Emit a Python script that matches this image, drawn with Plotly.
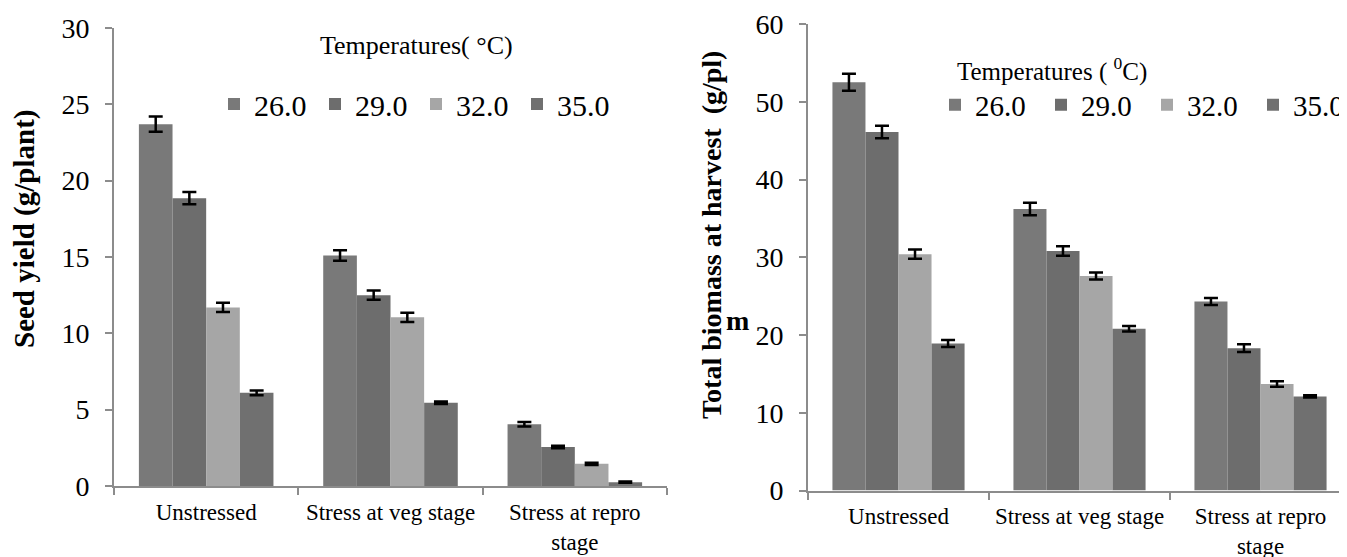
import plotly.graph_objects as go

# page has an 8px body margin; figure fills the rest of the 1347x557 window
OFF = 8
W, H = 1347 - OFF, 557 - OFF

categories = ["Unstressed", "Stress at veg stage", "Stress at repro<br>stage"]
temps = ["26.0", "29.0", "32.0", "35.0"]
colors = ["#797979", "#6d6d6d", "#a6a6a6", "#707070"]

# Seed yield (g/plant)
seed_26 = [23.7, 15.1, 4.05]
seed_29 = [18.85, 12.5, 2.55]
seed_32 = [11.7, 11.05, 1.45]
seed_35 = [6.1, 5.45, 0.25]
seed_err_26 = [0.5, 0.35, 0.15]
seed_err_29 = [0.4, 0.3, 0.08]
seed_err_32 = [0.3, 0.3, 0.08]
seed_err_35 = [0.15, 0.08, 0.04]

# Total biomass at harvest (g/pl)
bio_26 = [52.5, 36.2, 24.3]
bio_29 = [46.1, 30.8, 18.3]
bio_32 = [30.4, 27.6, 13.7]
bio_35 = [18.9, 20.8, 12.1]
bio_err_26 = [1.1, 0.8, 0.45]
bio_err_29 = [0.8, 0.6, 0.5]
bio_err_32 = [0.6, 0.45, 0.35]
bio_err_35 = [0.45, 0.35, 0.15]

seed_vals = [seed_26, seed_29, seed_32, seed_35]
seed_errs = [seed_err_26, seed_err_29, seed_err_32, seed_err_35]
bio_vals = [bio_26, bio_29, bio_32, bio_35]
bio_errs = [bio_err_26, bio_err_29, bio_err_32, bio_err_35]

SERIF = "Liberation Serif"

def px(x):
    return (x - OFF) / W

def py(y):
    return (H - (y - OFF)) / H

fig = go.Figure()

for i, t in enumerate(temps):
    fig.add_trace(go.Bar(
        x=categories, y=seed_vals[i], name=t,
        marker=dict(color=colors[i], line=dict(width=0)),
        error_y=dict(type="data", array=seed_errs[i], color="black", thickness=2.5, width=7),
        xaxis="x", yaxis="y", legend="legend", offsetgroup=str(i),
    ))
for i, t in enumerate(temps):
    fig.add_trace(go.Bar(
        x=categories, y=bio_vals[i], name=t,
        marker=dict(color=colors[i], line=dict(width=0)),
        error_y=dict(type="data", array=bio_errs[i], color="black", thickness=2.5, width=7),
        xaxis="x2", yaxis="y2", legend="legend2", offsetgroup=str(i),
    ))

axis_common = dict(
    showline=True, linecolor="#8c8c8c", linewidth=2,
    ticks="outside", tickcolor="#8c8c8c", ticklen=7, tickwidth=2,
    showgrid=False, zeroline=False, fixedrange=True, automargin=False,
)

fig.update_layout(
    width=W, height=H,
    margin=dict(l=0, r=0, t=0, b=0, autoexpand=False),
    paper_bgcolor="white", plot_bgcolor="white",
    barmode="group", bargap=0.27, bargroupgap=0,
    font=dict(family=SERIF, color="black"),
    xaxis=dict(**axis_common, domain=[px(114), px(667)], range=[-0.5, 2.5],
               tickson="boundaries", anchor="y", tickangle=0,
               tickfont=dict(family=SERIF, size=23, color="black"), ticklabelstandoff=4),
    yaxis=dict(**axis_common, domain=[py(486), py(28)], range=[0, 30], dtick=5,
               anchor="x", tickfont=dict(family=SERIF, size=28, color="black"),
               ticklabelstandoff=10),
    xaxis2=dict(**axis_common, domain=[px(808), 1.0], range=[-0.5, -0.5 + 539 / 181],
                tickson="boundaries", anchor="y2", tickangle=0,
                tickfont=dict(family=SERIF, size=23, color="black"), ticklabelstandoff=4),
    yaxis2=dict(**axis_common, domain=[py(490.5), py(24)], range=[0, 60], dtick=10,
                anchor="x2", tickfont=dict(family=SERIF, size=28, color="black"),
                ticklabelstandoff=10),
    legend=dict(orientation="h", x=px(214), y=py(104), xanchor="left", yanchor="middle",
                font=dict(family=SERIF, size=30, color="black"),
                bgcolor="rgba(0,0,0,0)", entrywidth=56, traceorder="normal"),
    legend2=dict(orientation="h", x=px(935), y=py(105), xanchor="left", yanchor="middle",
                 font=dict(family=SERIF, size=29, color="black"),
                 bgcolor="rgba(0,0,0,0)", entrywidth=61, traceorder="normal"),
    annotations=[
        dict(text="<b>Seed yield (g/plant)</b>", x=px(25), y=py(229), xref="paper", yref="paper",
             textangle=-90, showarrow=False, xanchor="center", yanchor="middle",
             font=dict(family=SERIF, size=29, color="black")),
        dict(text="<b>Total biomass at harvest&nbsp; (g/pl)</b>", x=px(711), y=py(235),
             xref="paper", yref="paper", textangle=-90, showarrow=False,
             xanchor="center", yanchor="middle",
             font=dict(family=SERIF, size=28, color="black")),
        dict(text="<b>m</b>", x=px(737), y=py(320), xref="paper", yref="paper",
             showarrow=False, xanchor="center", yanchor="middle",
             font=dict(family=SERIF, size=28, color="black")),
        dict(text="Temperatures( °C)", x=px(416), y=py(45), xref="paper", yref="paper",
             showarrow=False, xanchor="center", yanchor="middle",
             font=dict(family=SERIF, size=26, color="black")),
        dict(text="Temperatures ( <sup>0</sup>C)", x=px(1052), y=py(69), xref="paper", yref="paper",
             showarrow=False, xanchor="center", yanchor="middle",
             font=dict(family=SERIF, size=25, color="black")),
    ],
)

fig.write_html("out.html")
